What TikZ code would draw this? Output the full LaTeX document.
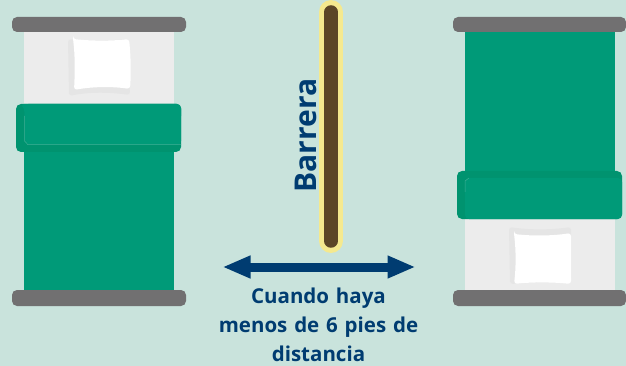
\documentclass[tikz,border=0pt]{standalone}
\usepackage{fontspec}
\setmainfont{Open Sans}
\usetikzlibrary{arrows.meta}
\definecolor{bgc}{HTML}{C9E3DC}
\definecolor{grn}{HTML}{009A78}
\definecolor{grnd}{HTML}{00936F}
\definecolor{grnl}{HTML}{3FAF95}
\definecolor{brd}{HTML}{717071}
\definecolor{sheet}{HTML}{ECECEC}
\definecolor{pshadow}{HTML}{E5E5E5}
\definecolor{navy}{HTML}{003C71}
\definecolor{ylw}{HTML}{F5E98E}
\definecolor{brn}{HTML}{5C4626}
\tikzset{
  x=1pt,y=-1pt,
  board/.style={fill=brd,rounded corners=5pt},
  sheetbox/.style={fill=sheet},
  cover/.style={fill=grn},
  foldbox/.style={fill=grnd,rounded corners=5pt},
  label/.style={text=navy,font=\bfseries,inner sep=0pt}
}
\begin{document}
\begin{tikzpicture}
\fill[bgc] (0,0) rectangle (626,366);
\useasboundingbox (0,0) rectangle (626,366);
% left bed
\fill[sheetbox] (24,30) rectangle (174,106);
\fill[cover] (24,150) rectangle (174,291);
\fill[board] (12,17) rectangle (186,32);
\fill[board] (12,290) rectangle (186,306);
\fill[pshadow,rounded corners=3pt] (68,39) .. controls (88,41) and (108,41) .. (127,39) -- (130,95) .. controls (108,92) and (88,92) .. (69,96) -- cycle;
\fill[white,rounded corners=3pt] (73,39) .. controls (92,41) and (112,41) .. (129,39) .. controls (131,58) and (131,75) .. (130,89) .. controls (110,86) and (90,87) .. (74,90) .. controls (75,72) and (75,55) .. cycle;
\fill[foldbox] (16,104) rectangle (181,152);
\fill[cover,rounded corners=4pt] (20,104) -- (181,104) -- (181,145) -- (28,145) -- (24.5,141) -- (24.5,108) -- cycle;
\fill[cover,rounded corners=4pt] (24.5,104) rectangle (181,120);
\draw[grnl,line width=.5pt] (24.5,116) -- (24.5,141) -- (28,144.7) -- (181,144.7);
% right bed
\fill[cover] (465,30) rectangle (615,173);
\fill[sheetbox] (465,217) rectangle (615,291);
\fill[board] (453,17) rectangle (626,32);
\fill[board] (453,290) rectangle (626,306);
\fill[pshadow,rounded corners=3pt] (509,227) .. controls (530,230) and (550,230) .. (571,227) -- (571,280) -- (510,284) -- cycle;
\fill[white,rounded corners=3pt] (514,234) .. controls (532,236) and (552,236) .. (571,233) .. controls (571,250) and (571,268) .. (571,284) .. controls (552,282) and (532,282) .. (514,284) .. controls (516,268) and (516,250) .. cycle;
\fill[foldbox] (457,171) rectangle (622,219);
\fill[cover,rounded corners=4pt] (465,178) rectangle (622,219);
\draw[grnl,line width=.5pt] (465,192) -- (465,181) -- (469,178);
% barrier
\coordinate (bt) at (331,12);
\coordinate (bb) at (331,241);
\draw[ylw,line width=24pt,line cap=round] (bt) -- (bb);
\draw[brn,line width=13.5pt,line cap=round] (bt) -- (bb);
\node[label,rotate=90,font=\bfseries\fontsize{30}{30}\selectfont] (barrera) at (306,135.5) {Barrera};
% arrow
\coordinate (al) at (222.5,267);
\coordinate (ar) at (415.5,267);
\draw[navy,line width=9pt,{Triangle[width=21pt,length=28pt]}-{Triangle[width=21pt,length=28pt]}] (al) -- (ar);
\node[label,font=\bfseries\fontsize{20.5}{29}\selectfont,align=center,text width=220pt] (txt) at (318.5,325) {Cuando haya\\menos de 6 pies de\\distancia};
\end{tikzpicture}
\end{document}
